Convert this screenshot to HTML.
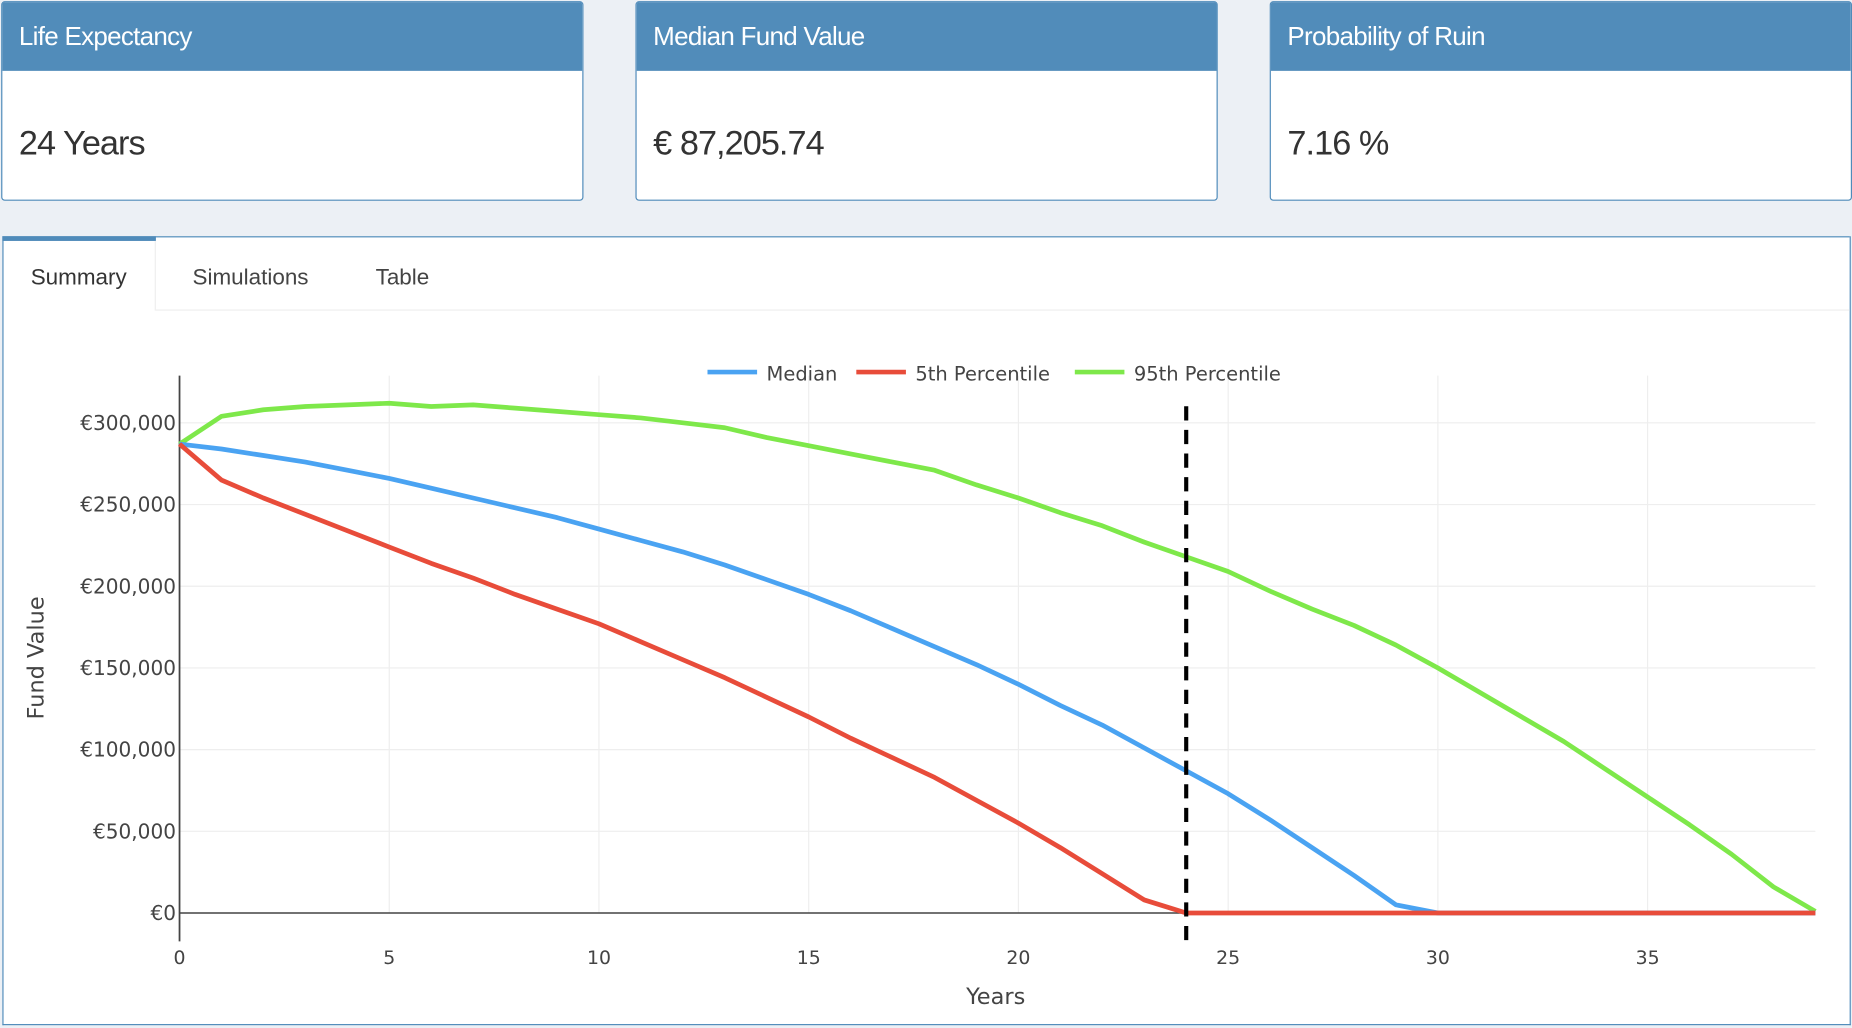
<!DOCTYPE html>
<html><head><meta charset="utf-8">
<style>
html,body{margin:0;padding:0;background:#ecf0f5;width:1852px;height:1028px;overflow:hidden}
#wrap{position:absolute;left:0;top:0;width:1568px;height:870px;transform:scale(1.18112);transform-origin:0 0;font-family:"Liberation Sans",sans-serif}
.card{position:absolute;top:1px;height:169px;width:493px;background:#fff;border:1px solid #4f8bba;border-radius:3px;box-sizing:border-box;overflow:hidden}
.card .hd{height:58px;background:#518cba;color:#fff;font-size:22px;line-height:58px;padding-left:14px;letter-spacing:-0.6px}
.card .val{font-size:29px;color:#333;padding:46px 0 0 14px;letter-spacing:-0.8px}
#panel{position:absolute;left:2px;top:200px;width:1565px;height:668px;background:#fff;border:1px solid #4f8bba;border-top:none;box-sizing:border-box}
.tab{position:absolute;top:0;height:63px;line-height:72px;font-size:19px;color:#444}
</style></head><body>
<div id="wrap">
<div class="card" style="left:1px"><div class="hd">Life Expectancy</div><div class="val">24 Years</div></div>
<div class="card" style="left:538px"><div class="hd">Median Fund Value</div><div class="val">€ 87,205.74</div></div>
<div class="card" style="left:1075px;width:493px"><div class="hd">Probability of Ruin</div><div class="val">7.16 %</div></div>
<div id="panel">
<div style="position:absolute;left:0;top:0;width:1563px;height:1px;background:#4f8bba"></div>
<div style="position:absolute;left:129px;top:62px;width:1434px;height:1px;background:#eee"></div>
<div style="position:absolute;left:-1px;top:0;width:130px;height:4px;background:#4f8bba"></div>
<div style="position:absolute;left:128px;top:4px;width:1px;height:59px;background:#eee"></div>
<div class="tab" style="left:23px;color:#333">Summary</div>
<div class="tab" style="left:160px">Simulations</div>
<div class="tab" style="left:315px">Table</div>
</div>
<svg id="chart" width="1568" height="870" style="position:absolute;left:0;top:0;font-family:'DejaVu Sans',sans-serif"></svg>
</div>
<script>
const years=[];for(let i=0;i<=39;i++)years.push(i);
const median=[287,284,280,276,271,266,260,254,248,242,235,228,221,213,204,195,185,174,163,152,140,127,115,101,87,73,57,40,23,5,0,0,0,0,0,0,0,0,0,0].map(v=>v*1000);
const p5=[287,265,254,244,234,224,214,205,195,186,177,166,155,144,132,120,107,95,83,69,55,40,24,8,0,0,0,0,0,0,0,0,0,0,0,0,0,0,0,0].map(v=>v*1000);
const p95=[287,304,308,310,311,312,310,311,309,307,305,303,300,297,291,286,281,276,271,262,254,245,237,227,218,209,197,186,176,164,150,135,120,105,88,71,54,36,16,1].map(v=>v*1000);
const yTicks=[0,50000,100000,150000,200000,250000,300000];
const yTickLabels=["€0","€50,000","€100,000","€150,000","€200,000","€250,000","€300,000"];
const xTicks=[0,5,10,15,20,25,30,35];
const lifeExp=24;
const X=v=>152+v*(1537-152)/39, Y=v=>773-v*415/300000;
const svg=document.getElementById('chart'),NS='http://www.w3.org/2000/svg';
function mk(t,a,txt){const e=document.createElementNS(NS,t);for(const k in a)e.setAttribute(k,a[k]);if(txt!=null)e.textContent=txt;svg.appendChild(e);return e;}
xTicks.forEach(t=>{const e=mk('line',{x1:X(t),x2:X(t),y1:318,y2:773,stroke:'#eee','stroke-width':1});


const l=mk('text',{x:X(t),y:816,'text-anchor':'middle','font-size':16,fill:'#444'},t);

});
yTicks.forEach((t,i)=>{if(t>0){const e=mk('line',{x1:152,x2:1537,y1:Y(t),y2:Y(t),stroke:'#eee','stroke-width':1});

}
const l=mk('text',{x:149,y:Y(t)+6,'text-anchor':'end','font-size':17,fill:'#444'},yTickLabels[i]);

});
let a=mk('line',{x1:152,x2:152,y1:318,y2:797,stroke:'#444','stroke-width':1.5});


a=mk('line',{x1:152,x2:1537,y1:Y(0),y2:Y(0),stroke:'#444','stroke-width':1.2});


function series(d,c,n){const p=mk('polyline',{points:d.map((v,i)=>X(years[i])+','+Y(v)).join(' '),fill:'none',stroke:c,'stroke-width':4,'stroke-linejoin':'round'});

}
series(p95,'#7ee84a','line-95th-percentile');
series(median,'#4aa3f2','line-median');
series(p5,'#e84c3a','line-5th-percentile');
a=mk('line',{x1:X(lifeExp),x2:X(lifeExp),y1:344,y2:797,stroke:'#000','stroke-width':3.5,'stroke-dasharray':'12,8'});


const leg=[['Median','#4aa3f2',599],['5th Percentile','#e84c3a',725],['95th Percentile','#7ee84a',910]];
leg.forEach(([n,c,x])=>{const l=mk('line',{x1:x,x2:x+42,y1:315,y2:315,stroke:c,'stroke-width':4});


const t=mk('text',{x:x+50,y:322,'font-size':16.5,fill:'#444'},n);

});
a=mk('text',{x:843,y:850,'text-anchor':'middle','font-size':19,fill:'#444'},'Years');


a=mk('text',{x:37,y:557,'text-anchor':'middle','font-size':19,fill:'#444',transform:'rotate(-90 37 557)'},'Fund Value');


</script>
</body></html>
